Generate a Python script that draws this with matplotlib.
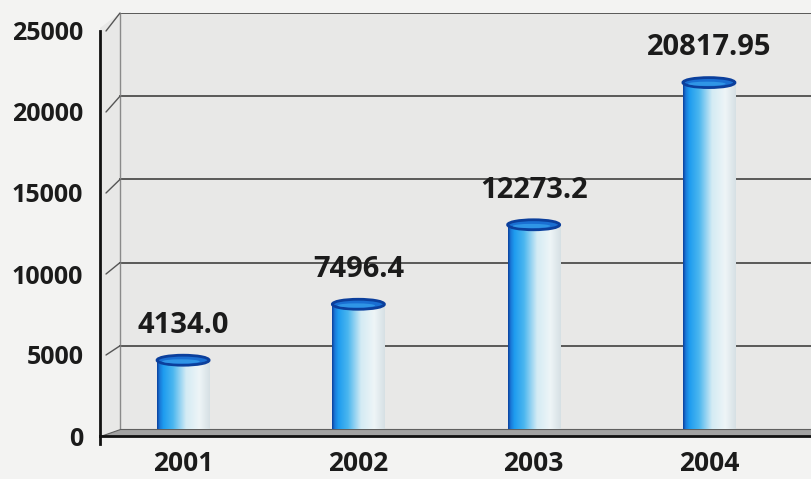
import matplotlib
matplotlib.use("Agg")
import matplotlib.pyplot as plt
import matplotlib.transforms as mtransforms
from matplotlib.patches import Ellipse, Rectangle, Polygon, ConnectionPatch
from matplotlib.colors import LinearSegmentedColormap
import numpy as np

plt.rcParams['font.family'] = ['Open Sans', 'DejaVu Sans']

years = ['2001', '2002', '2003', '2004']
values = [4134.0, 7496.4, 12273.2, 20817.95]
value_labels = ['4134.0', '7496.4', '12273.2', '20817.95']
yticks = [0, 5000, 10000, 15000, 20000, 25000]

W, H = 812, 479
fig = plt.figure(figsize=(W/100, H/100), dpi=100, facecolor='#f3f3f2')
L, Wd = 100/W, 712/W
ax_back = fig.add_axes([L, 50/H, Wd, 416/H], zorder=0)
ax = fig.add_axes([L, 43/H, Wd, 405/H], zorder=1)

xlim = (-0.474, 3.588)
for a in (ax, ax_back):
    a.set_xlim(xlim)
    a.set_ylim(0, 25000)
ax_back.axis('off')

# back + side wall
dx = 20/712
wall = Polygon([(0, -7/416), (dx, 0), (1, 0), (1, 1), (dx, 1), (0, 1 - 15/416)],
               closed=True, transform=ax_back.transAxes, facecolor='#e8e8e7',
               edgecolor='none', clip_on=False, zorder=0)
ax_back.add_patch(wall)
for v in yticks[1:]:
    ax_back.axhline(v, xmin=dx, xmax=1, color='#4d4d4d', lw=1.3, zorder=1)
ax_back.plot([dx, dx], [0, 1], transform=ax_back.transAxes, color='#8a8a8a', lw=1, zorder=1)

blendA = mtransforms.blended_transform_factory(ax.transAxes, ax.transData)
blendB = mtransforms.blended_transform_factory(ax_back.transAxes, ax_back.transData)
for v in yticks[1:]:
    cp = ConnectionPatch(xyA=(6/712, v), coordsA=blendA, xyB=(dx, v), coordsB=blendB,
                         color='#555555', lw=1)
    fig.add_artist(cp)

# floor
floor = Polygon([(L, 43/H), (1, 43/H), (1, 50/H), (L + 20/W, 50/H)], closed=True,
                transform=fig.transFigure, facecolor='#a2a2a2', edgecolor='#5f5f5f',
                lw=0.8, clip_on=False, zorder=1)
ax_back.add_patch(floor)

# cylinders
cyl = LinearSegmentedColormap.from_list('cyl', [
    (0.0, '#0a3f9c'), (0.05, '#1a78d8'), (0.12, '#1e9cef'), (0.3, '#4ab6ef'),
    (0.55, '#d4ebf4'), (0.8, '#eef5f7'), (1.0, '#d6e0e4')])
grad = np.linspace(0, 1, 256)[None, :]
w = 0.297
ell_h = 10 * 25000 / 416
for i, v in enumerate(values):
    rect = Rectangle((i - w/2, 0), w, v, transform=ax_back.transData)
    im = ax_back.imshow(grad, cmap=cyl, extent=(i - w/2, i + w/2, 0, v),
                        aspect='auto', zorder=3, interpolation='bilinear')
    im.set_clip_path(rect)
    eb = Ellipse((i, 0), w, ell_h, transform=ax_back.transData)
    im2 = ax_back.imshow(grad, cmap=cyl, extent=(i - w/2, i + w/2, -ell_h/2, ell_h/2),
                         aspect='auto', zorder=3, interpolation='bilinear')
    im2.set_clip_path(eb)
    ax_back.add_patch(Ellipse((i, v), w, ell_h, facecolor='#1a6fd2',
                              edgecolor='#0b3f9c', lw=2, zorder=4))
    ax_back.add_patch(Ellipse((i - w*0.04, v - ell_h*0.12), w*0.72, ell_h*0.42,
                              facecolor='#2f95e6', edgecolor='none', zorder=5))
    ax_back.annotate(value_labels[i], (i, v), xytext=(0, 25), textcoords='offset points',
                     ha='center', va='center', fontsize=21, fontweight='bold',
                     color='#1b1b1b', zorder=6)
ax_back.set_xlim(xlim)
ax_back.set_ylim(0, 25000)

# front axis
ax.set_facecolor('none')
for s in ('top', 'right'):
    ax.spines[s].set_visible(False)
for s in ('left', 'bottom'):
    ax.spines[s].set_linewidth(2)
    ax.spines[s].set_color('#111111')
ax.plot([xlim[0], xlim[0]], [-500, 0], color='#111111', lw=2, clip_on=False)
ax.set_yticks(yticks)
ax.set_yticklabels([str(t) for t in yticks], fontsize=18, fontweight='bold', color='#1b1b1b')
ax.set_xticks(range(len(years)))
ax.set_xticklabels(years, fontsize=19, fontweight='bold', color='#1b1b1b')
ax.tick_params(axis='y', length=0, pad=12)
ax.tick_params(axis='x', length=0, pad=10)

fig.savefig('out.png', dpi=100, facecolor=fig.get_facecolor())
